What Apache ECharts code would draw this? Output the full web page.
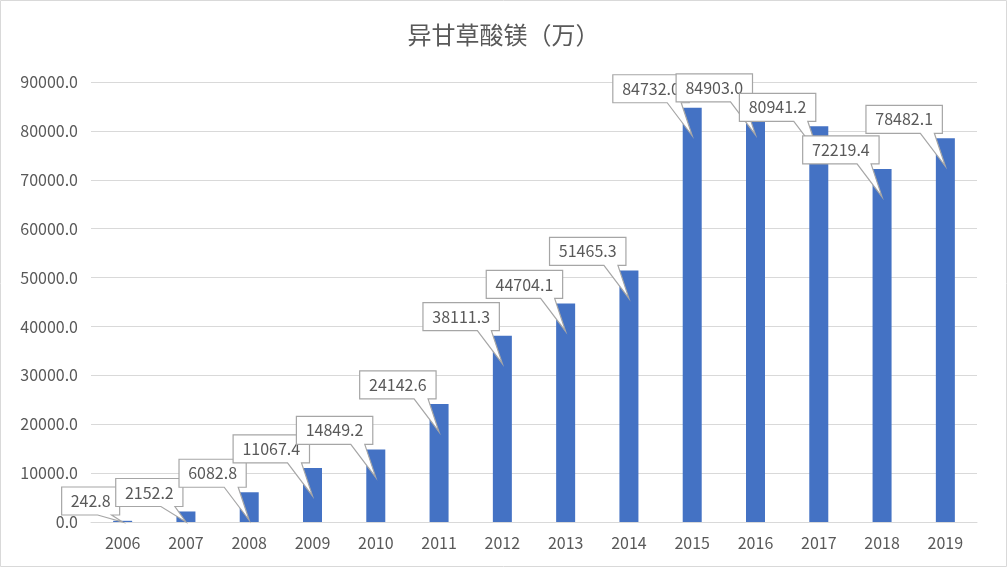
<!DOCTYPE html>
<html lang="zh">
<head>
<meta charset="utf-8">
<title>异甘草酸镁（万）</title>
<script src="https://cdn.jsdelivr.net/npm/echarts@6/dist/echarts.min.js"></script>
<style>html,body{margin:0;padding:0;background:#fff}</style>
</head>
<body>
<div id="main" style="width:1007px;height:567px;"></div>
<script>
var years = ['2006','2007','2008','2009','2010','2011','2012','2013','2014','2015','2016','2017','2018','2019'];
var values = [242.8, 2152.2, 6082.8, 11067.4, 14849.2, 24142.6, 38111.3, 44704.1, 51465.3, 84732.0, 84903.0, 80941.2, 72219.4, 78482.1];
var yMax = 90000, yStep = 10000;

var font = 'Noto Sans CJK SC';
var grey = '#595959';
var chart = echarts.init(document.getElementById('main'));

// callout label drawn on top of each bar
function callout(params, api) {
  var i = api.value(0), v = api.value(1);
  var p = api.coord([i, v]);
  var txt = v.toFixed(1);
  var w = echarts.format.getTextRect ? 0 : 0;
  w = txt.length * 9.2 + 12;
  var h = 28;
  var r = p[0] - 3, b = p[1] - 5;
  if (b > 515) b = 515;
  var l = r - w, t = b - h;
  var tipX = p[0], tipY = Math.min(p[1] + 28, 522);
  var pts = [[l, t], [r, t], [r, b], [r - 8, b], [tipX, tipY], [r - 22, b], [l, b]];
  return {
    type: 'group',
    children: [
      { type: 'polygon', shape: { points: pts },
        style: { fill: '#fff', stroke: '#a6a6a6', lineWidth: 1.2 } },
      { type: 'text', x: (l + r) / 2, y: (t + b) / 2,
        style: { text: txt, fill: grey, font: '16px "' + font + '"', align: 'center', verticalAlign: 'middle' } }
    ]
  };
}

chart.setOption({
  animation: false,
  title: {
    text: '异甘草酸镁（万）', left: 'center', top: 18,
    textStyle: { color: grey, fontSize: 24, fontWeight: 'normal', fontFamily: font }
  },
  graphic: [{ type: 'rect', shape: { x: 0.5, y: 0.5, width: 1006, height: 566 },
    style: { fill: 'none', stroke: '#d9d9d9' } }],
  grid: { left: 91, right: 30, top: 82, bottom: 45 },
  xAxis: {
    type: 'category', data: years,
    axisTick: { show: false },
    axisLine: { lineStyle: { color: '#d9d9d9' } },
    axisLabel: { color: grey, fontSize: 16, fontFamily: font, margin: 13 }
  },
  yAxis: {
    type: 'value', min: 0, max: yMax, interval: yStep,
    axisLabel: { color: grey, fontSize: 16, fontFamily: font, margin: 13,
      formatter: function (v) { return v.toFixed(1); } },
    splitLine: { lineStyle: { color: '#d9d9d9' } }
  },
  series: [
    { type: 'bar', data: values, barWidth: 19, itemStyle: { color: '#4472C4' } },
    { type: 'custom', renderItem: callout, clip: false, z: 10,
      data: values.map(function (v, i) { return [i, v]; }) }
  ]
});
</script>
</body>
</html>
